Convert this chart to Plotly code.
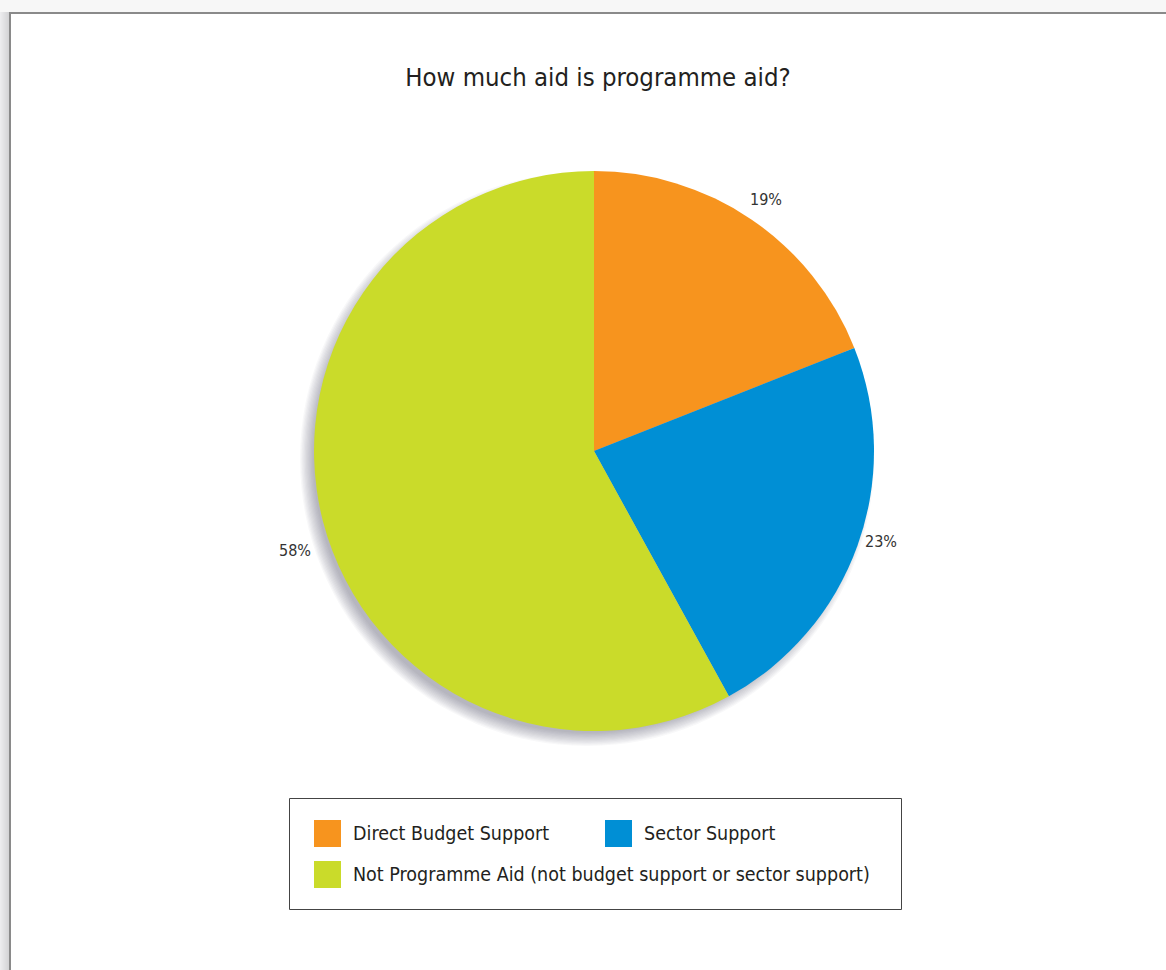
import plotly.graph_objects as go

# Aid composition
labels = [
    "Direct Budget Support",
    "Sector Support",
    "Not Programme Aid (not budget support or sector support)",
]
values = [19, 23, 58]
colors = ["#F7941E", "#008FD5", "#CADB2A"]

W, H = 1166, 970
FONT = "DejaVu Sans Condensed, Liberation Sans Narrow, sans-serif"


def px_x(x):
    return x / W


def px_y(y):
    return 1 - y / H


cx, cy, r = 594, 451, 280

fig = go.Figure()

# soft drop shadow under the pie, built from stacked translucent discs
layers = 12
for k in range(layers):
    rr = r + 7 - k * 1.2
    ox, oy = cx - 7, cy + 8
    fig.add_trace(go.Pie(
        values=[1], labels=["shadow"], sort=False,
        marker=dict(colors=["rgba(70,70,75,0.035)"], line=dict(width=0)),
        textinfo="none", hoverinfo="skip", showlegend=False,
        domain=dict(x=[px_x(ox - rr), px_x(ox + rr)], y=[px_y(oy + rr), px_y(oy - rr)]),
    ))

fig.add_trace(go.Pie(
    labels=labels, values=values, sort=False,
    direction="clockwise", rotation=0,
    marker=dict(colors=colors, line=dict(width=0)),
    textinfo="none", showlegend=False,
    domain=dict(x=[px_x(cx - r), px_x(cx + r)], y=[px_y(cy + r), px_y(cy - r)]),
))

# percentage labels
label_pos = [(766, 200), (881, 541), (295, 550)]
for v, (lx, ly) in zip(values, label_pos):
    fig.add_annotation(x=px_x(lx), y=px_y(ly), xref="paper", yref="paper",
                       xanchor="center", yanchor="middle",
                       text=f"{v}%", showarrow=False,
                       font=dict(family=FONT, size=16, color="#333333"))

shapes = []
# page backdrop and frame
shapes.append(dict(type="rect", xref="paper", yref="paper", x0=0, x1=1, y0=px_y(12), y1=1,
                   fillcolor="#F7F7F7", line=dict(width=0), layer="below"))
for i in range(9):
    g = 236 - i * 3
    shapes.append(dict(type="rect", xref="paper", yref="paper",
                       x0=px_x(i), x1=px_x(i + 1), y0=0, y1=px_y(12),
                       fillcolor=f"rgb({g},{g},{g+2})", line=dict(width=0), layer="below"))
shapes.append(dict(type="line", xref="paper", yref="paper", x0=px_x(10), x1=px_x(10),
                   y0=0, y1=px_y(12), line=dict(color="#8A8A8A", width=2)))
shapes.append(dict(type="line", xref="paper", yref="paper", x0=px_x(9), x1=1,
                   y0=px_y(13), y1=px_y(13), line=dict(color="#8A8A8A", width=2)))

# legend box
shapes.append(dict(type="rect", xref="paper", yref="paper",
                   x0=px_x(289.5), x1=px_x(901.5), y0=px_y(909.5), y1=px_y(798.5),
                   line=dict(color="#444444", width=1), fillcolor="rgba(0,0,0,0)"))
legend_pos = [(314, 820), (605, 820), (314, 861)]
for name, col, (sx, sy) in zip(labels, colors, legend_pos):
    shapes.append(dict(type="rect", xref="paper", yref="paper",
                       x0=px_x(sx), x1=px_x(sx + 27), y0=px_y(sy + 27), y1=px_y(sy),
                       fillcolor=col, line=dict(width=0)))
    fig.add_annotation(x=px_x(sx + 37), y=px_y(sy + 13.5), xref="paper", yref="paper",
                       text=name, showarrow=False, xanchor="left", yanchor="middle",
                       font=dict(family=FONT, size=19.5, color="#231F20"))

fig.update_layout(
    width=W, height=H,
    margin=dict(l=0, r=0, t=0, b=0),
    paper_bgcolor="white", plot_bgcolor="white",
    shapes=shapes,
    title=dict(text="How much aid is programme aid?", x=598 / W, y=px_y(77),
               xanchor="center", yanchor="middle",
               font=dict(family=FONT, size=25.5, color="#231F20")),
    showlegend=False,
)

fig.write_html("out.html")
